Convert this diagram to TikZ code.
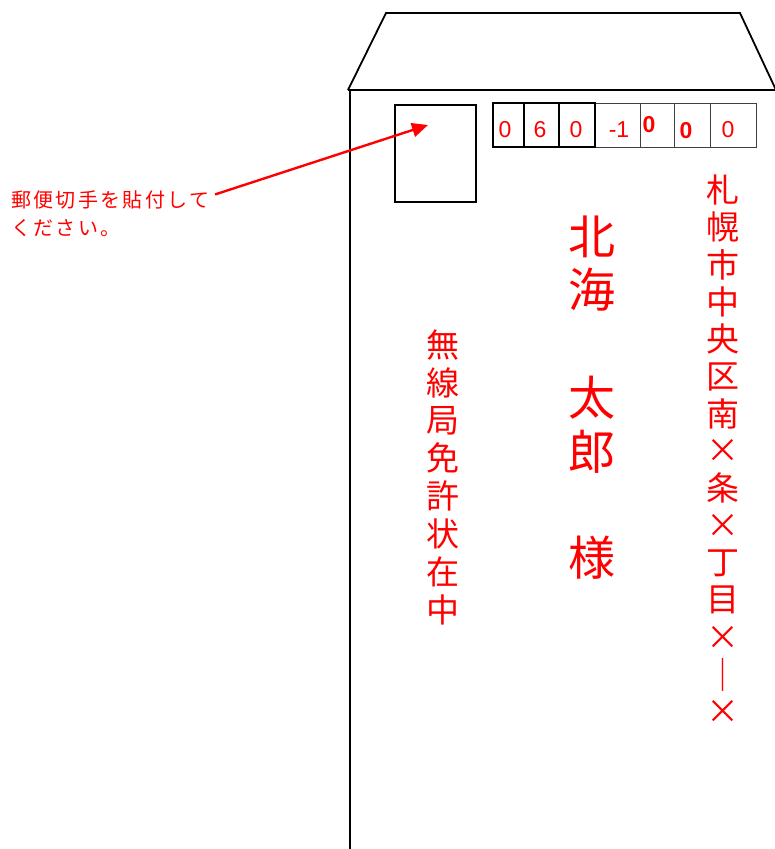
\documentclass[tikz,border=0pt]{standalone}
\usepackage{fontspec}
\setmainfont{Liberation Sans}
\newfontfamily\cjk{Noto Sans CJK JP}
\usetikzlibrary{arrows.meta}
\definecolor{postred}{RGB}{255,0,0}
\def\trk#1{\ifx#1\relax\else\makebox[22.3pt]{#1}\expandafter\trk\fi}
\begin{document}
\begin{tikzpicture}[x=1pt,y=-1pt,
  outline/.style={draw=black,line width=1.8pt},
  thinbox/.style={draw=black!75,line width=0.9pt},
  thickbox/.style={draw=black,line width=1.6pt},
  digit/.style={text=postred,inner sep=0pt,font=\fontsize{23}{23}\selectfont},
  bigdigit/.style={text=postred,inner sep=0pt,font=\bfseries\fontsize{23}{23}\selectfont},
  vchar/.style={text=postred,inner sep=0pt,font=\cjk\fontsize{33}{33}\selectfont},
  namechar/.style={text=postred,inner sep=0pt,font=\cjk\fontsize{47}{47}\selectfont},
  notetext/.style={text=postred,inner sep=0pt,anchor=base west,font=\cjk\fontsize{20}{20}\selectfont},
  pointer/.style={draw=postred,line width=2.4pt,-{Triangle[length=16pt,width=14pt]}}]
\useasboundingbox (0,0) rectangle (775,849);
% envelope
\draw[outline] (348,90) -- (386,13) -- (740,13) -- (776,90);
\draw[outline] (348,90) -- (776,90);
\draw[outline] (350,90) -- (350,850);
% stamp box
\node[draw=black,line width=1.6pt,minimum width=81pt,minimum height=97pt,inner sep=0pt,anchor=north west] (stamp) at (394,104) {};
\coordinate (stamptip) at (428,125);
% postal code boxes
\draw[thinbox] (595,103) rectangle (640,147);
\draw[thinbox] (640,103) rectangle (674,147);
\draw[thinbox] (674,103) rectangle (710,147);
\draw[thinbox] (710,103) rectangle (756,147);
\draw[thickbox] (493,103) rectangle (524,147);
\draw[thickbox] (524,103) rectangle (559,147);
\draw[thickbox] (559,103) rectangle (595,147);
\node[digit] (d1) at (505,130) {0};
\node[digit] (d2) at (540,130) {6};
\node[digit] (d3) at (576,130) {0};
\node[digit] (d4) at (619,130) {-1};
\node[bigdigit] (d5) at (649,125) {0};
\node[bigdigit] (d6) at (686,131) {0};
\node[digit] (d7) at (728,130) {0};
% note
\node[notetext] (note1) at (10,207) {\trk 郵便切手を貼付して\relax};
\node[notetext] (note2) at (10,235) {\trk ください。\relax};
\draw[pointer] (note1.east) ++(4,-5) -- (stamptip);
% address
\foreach \c [count=\i] in {札,幌,市,中,央,区,南,×,条,×,丁,目,×,｜,×}
  \node[vchar] (addr\i) at (723,{190+37.3*(\i-1)}) {\c};
% name
\node[namechar] (n1) at (592,237) {北};
\node[namechar] (n2) at (592,290) {海};
\node[namechar] (n3) at (592,398) {太};
\node[namechar] (n4) at (592,452) {郎};
\node[namechar] (n5) at (592,558) {様};
% enclosure note
\foreach \c [count=\i] in {無,線,局,免,許,状,在,中}
  \node[vchar] (enc\i) at (443,{345+37.8*(\i-1)}) {\c};
\end{tikzpicture}
\end{document}
